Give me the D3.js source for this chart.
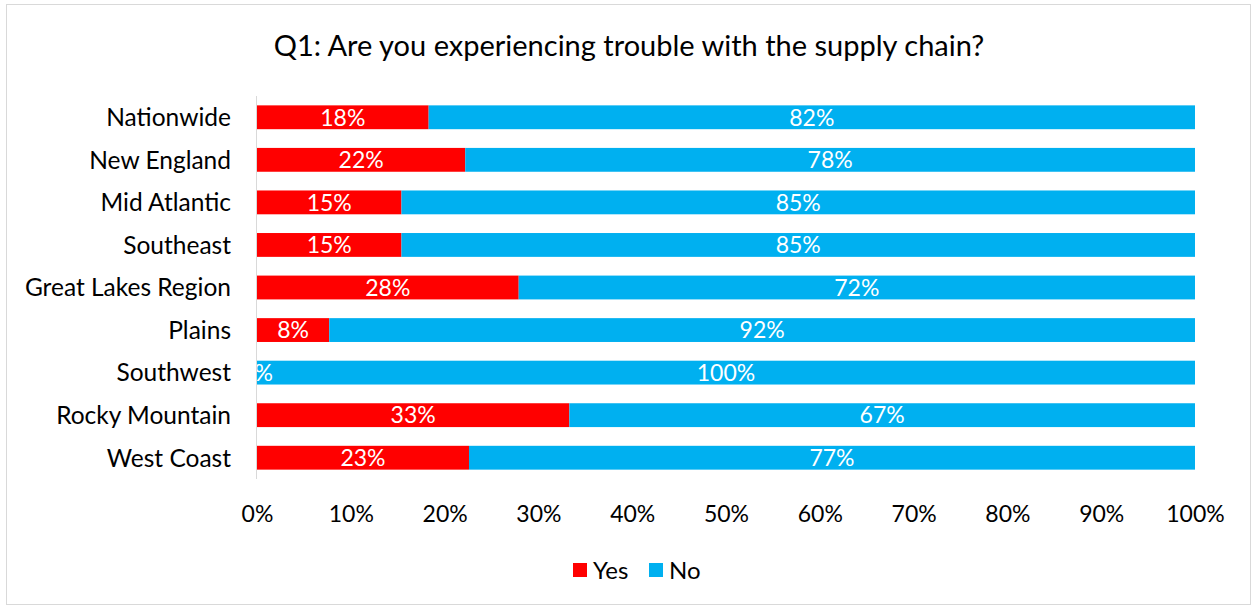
<!DOCTYPE html>
<html><head><meta charset="utf-8">
<script src="https://cdn.jsdelivr.net/npm/d3@7"></script>
<style>
body{margin:0;background:#fff;}
svg text{font-family:Lato,"Open Sans",sans-serif;}
</style></head><body>
<svg id="c" width="1253" height="608"></svg>
<script>
const categories = ["Nationwide","New England","Mid Atlantic","Southeast","Great Lakes Region","Plains","Southwest","Rocky Mountain","West Coast"];
const yesValues = [18.3, 22.2, 15.4, 15.4, 27.9, 7.7, 0, 33.3, 22.6];
const noValues = [81.7, 77.8, 84.6, 84.6, 72.1, 92.3, 100, 66.7, 77.4];
const yesLabels = ["18%","22%","15%","15%","28%","8%","0%","33%","23%"];
const noLabels = ["82%","78%","85%","85%","72%","92%","100%","67%","77%"];
const tickValues = [0,10,20,30,40,50,60,70,80,90,100];
const seriesNames = ["Yes","No"];
const colors = ["#ff0000","#00b0f0"];

const svg = d3.select("#c");
svg.append("rect").attr("x",6.5).attr("y",4.5).attr("width",1244).attr("height",600)
  .attr("fill","#fff").attr("stroke","#d9d9d9");

svg.append("text").attr("x",629).attr("y",56).attr("text-anchor","middle")
  .attr("font-size",29).attr("fill","#000").text("Q1: Are you experiencing trouble with the supply chain?");

const x = d3.scaleLinear().domain([0,100]).range([257,1195]);
const y = d3.scaleBand().domain(categories).range([96,479]).paddingInner(0.44).paddingOuter(0.22);

svg.append("defs").append("clipPath").attr("id","plot").append("rect")
  .attr("x",257).attr("y",90).attr("width",960).attr("height",400);

const rows = categories.map((c,i)=>({c, vals:[yesValues[i],noValues[i]], labels:[yesLabels[i],noLabels[i]]}));
const g = svg.append("g").attr("clip-path","url(#plot)");
const gl = svg.append("g").attr("clip-path","url(#plot)");
rows.forEach(r=>{
  let acc=0;
  r.vals.forEach((v,k)=>{
    g.append("rect").attr("x",x(acc)).attr("y",y(r.c)).attr("width",x(acc+v)-x(acc))
      .attr("height",y.bandwidth()).attr("fill",colors[k]);
    gl.append("text").attr("x",(x(acc)+x(acc+v))/2).attr("y",y(r.c)+y.bandwidth()/2)
      .attr("dy","0.36em").attr("text-anchor","middle").attr("font-size",23).attr("fill","#fff")
      .text(r.labels[k]);
    acc+=v;
  });
});

svg.append("line").attr("x1",256.5).attr("x2",256.5).attr("y1",96).attr("y2",479)
  .attr("stroke","#d9d9d9").attr("stroke-width",1);

const yAxis = svg.append("g").attr("transform","translate(256,0)")
  .call(d3.axisLeft(y).tickSize(0).tickPadding(25));
yAxis.select(".domain").remove();
yAxis.selectAll("text").attr("font-size",24.5).attr("fill","#000").attr("font-family","Lato,sans-serif").attr("dy","0.36em");

const xAxis = svg.append("g").attr("transform","translate(0,500)")
  .call(d3.axisBottom(x).tickValues(tickValues).tickFormat(d=>d+"%").tickSize(0).tickPadding(6));
xAxis.select(".domain").remove();
xAxis.selectAll("text").attr("font-size",23).attr("fill","#000").attr("font-family","Lato,sans-serif");

const leg = svg.append("g");
const legItems = [{n:"Yes",c:colors[0],x:573},{n:"No",c:colors[1],x:649}];
legItems.forEach(d=>{
  leg.append("rect").attr("x",d.x).attr("y",563).attr("width",14).attr("height",14).attr("fill",d.c);
  leg.append("text").attr("x",d.x+20).attr("y",570).attr("dy","0.36em").attr("font-size",24).attr("fill","#000").text(d.n);
});
</script></body></html>
